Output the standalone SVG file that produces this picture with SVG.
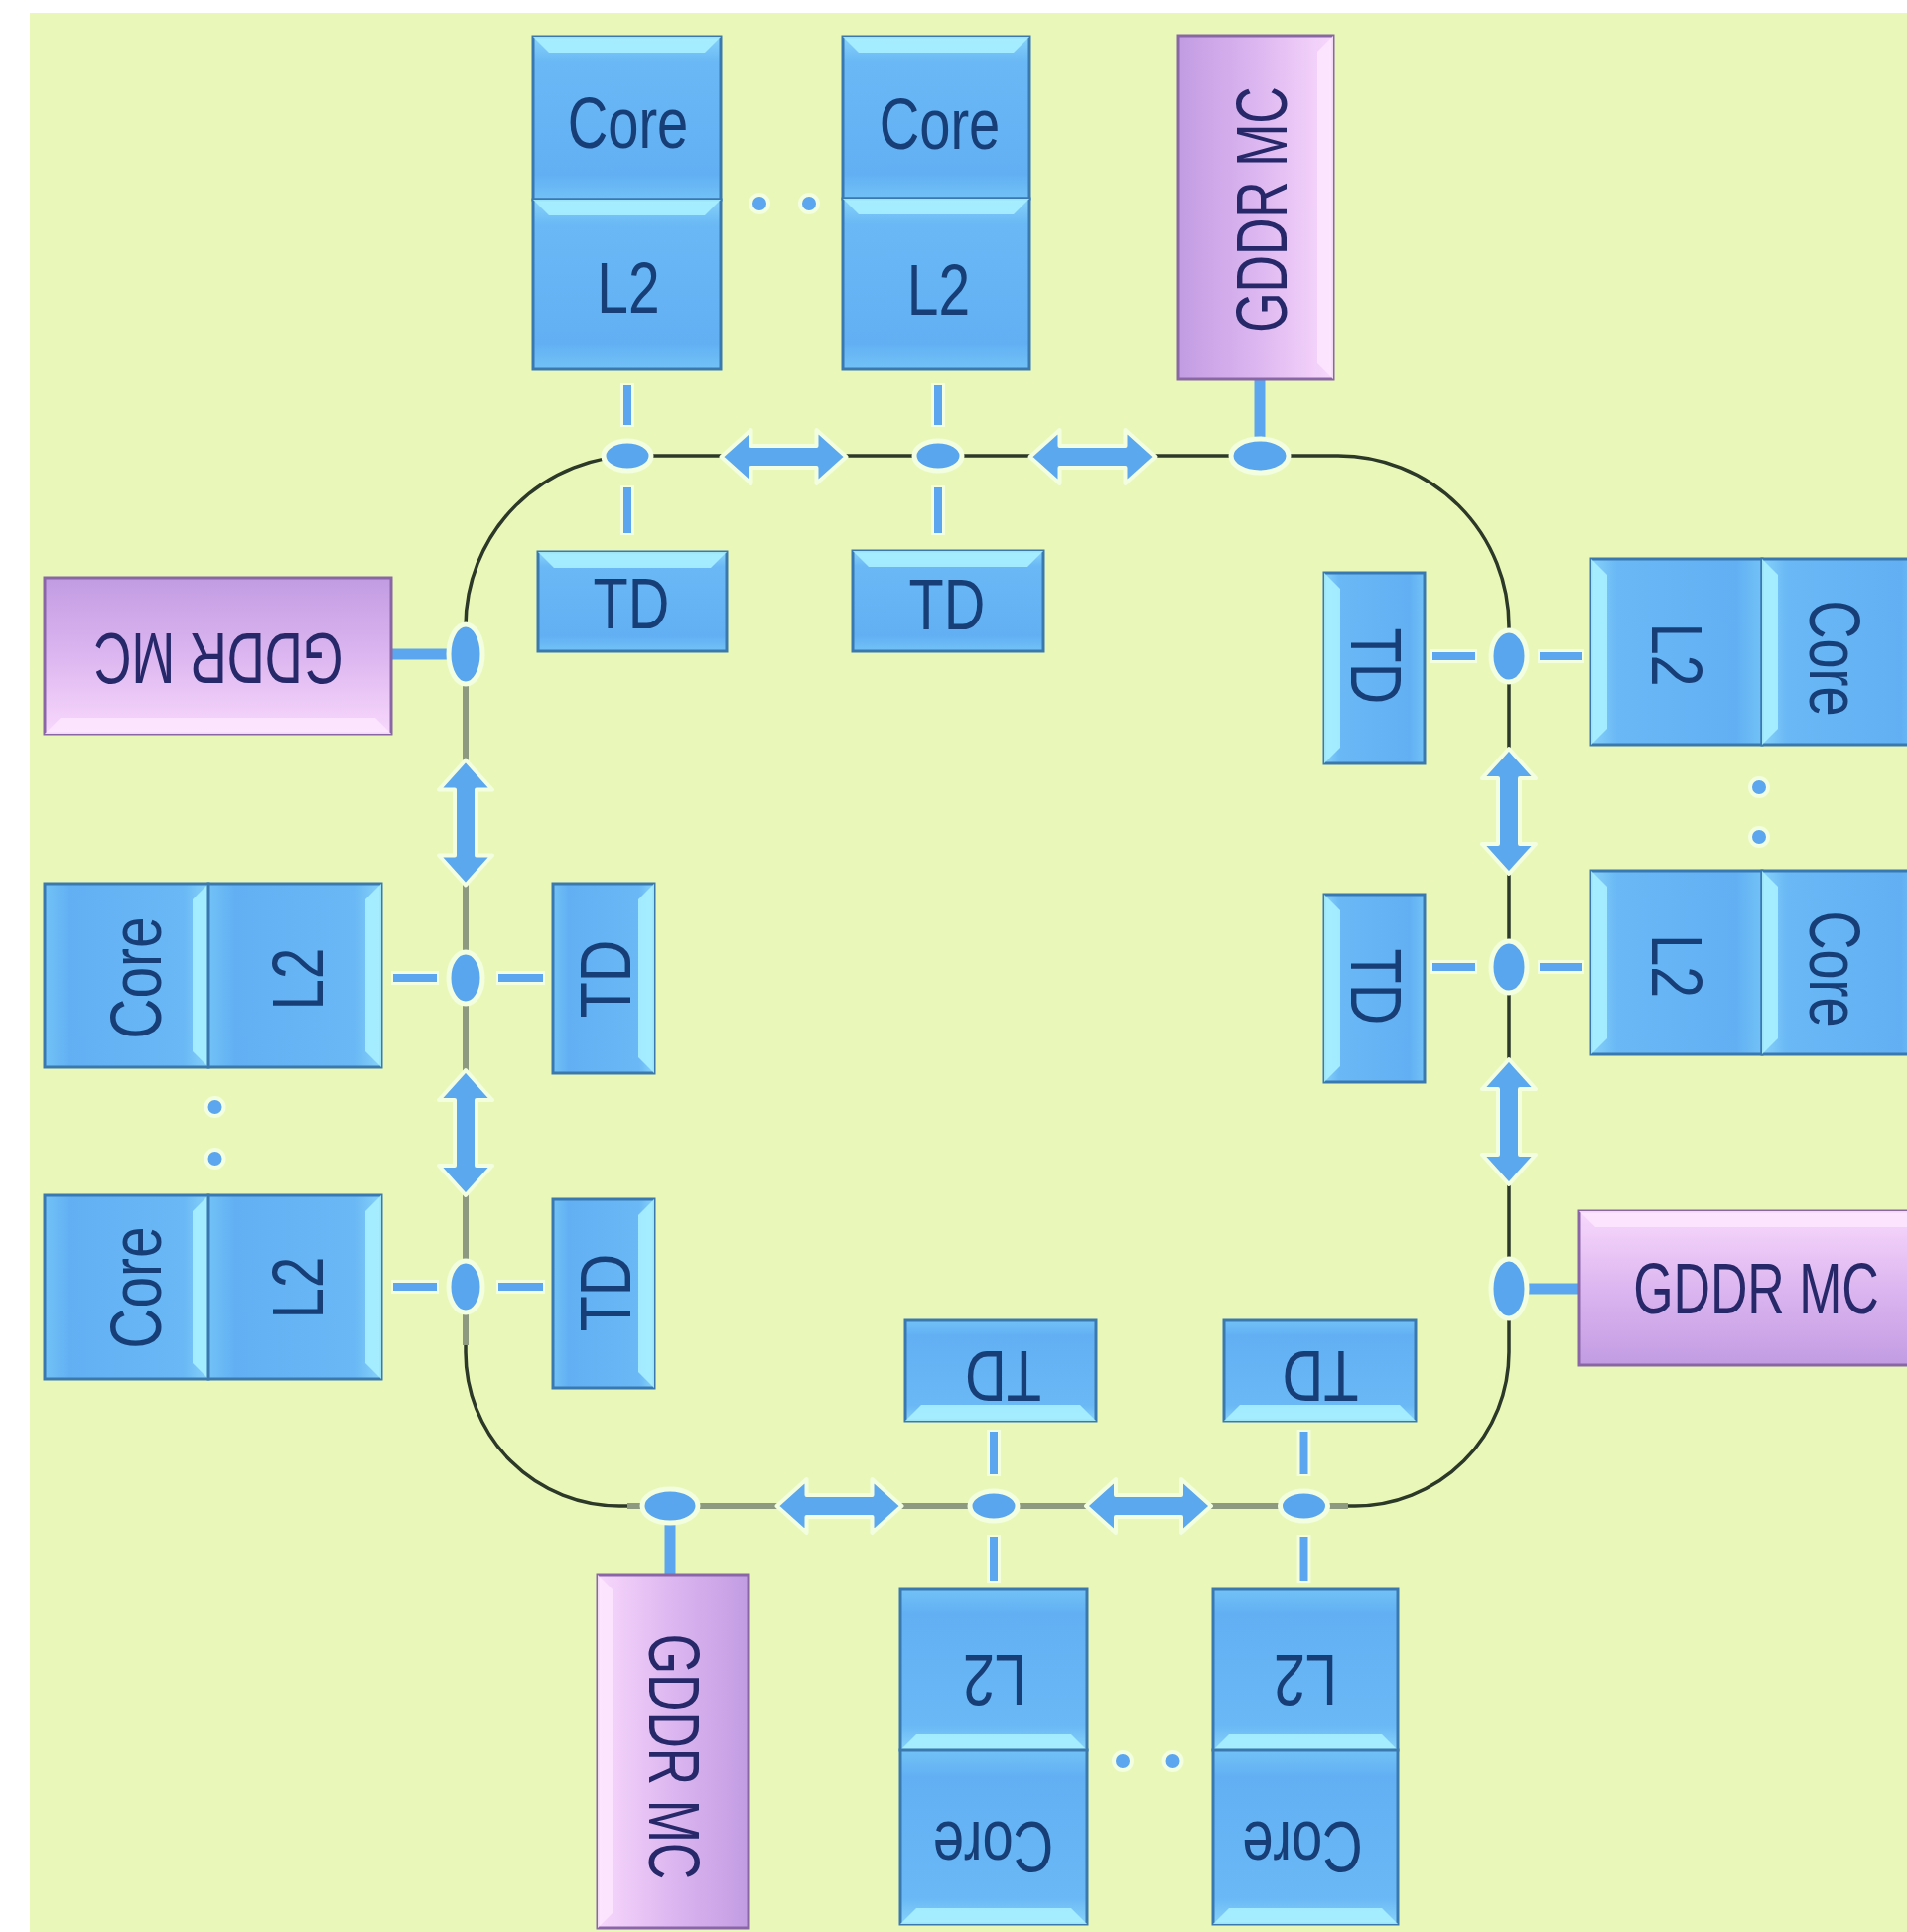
<svg xmlns="http://www.w3.org/2000/svg" width="1921" height="1946" viewBox="0 0 1921 1946">
<style>
.cell{stroke:#3a78b0;stroke-width:3}
.mc{stroke:#8a66a6;stroke-width:3}
.hl{fill:#a8f0ff;opacity:.9}
.hlp{fill:#fde6ff;opacity:.9}
.lbl{font-family:"Liberation Sans",Arial,sans-serif;font-size:72px;fill:#173e76;text-anchor:middle}
.lblm{font-family:"Liberation Sans",Arial,sans-serif;font-size:72px;fill:#26286a;text-anchor:middle}
.ring{fill:none;stroke:#2c3828;stroke-width:3.5}
.ringg{fill:none;stroke:#8d9a7f;stroke-width:6}
.halo{stroke:#f3fde0;stroke-width:14;stroke-linecap:butt}
.dash{stroke:#5ba6ee;stroke-width:8;stroke-linecap:butt}
.solid{stroke:#5ba6ee;stroke-width:11;stroke-linecap:butt}
.stop{fill:#5aa6ee;stroke:#f3fde0;stroke-width:5}
.dot{fill:#5ba6ee;stroke:#f3fde0;stroke-width:4}
.arr{fill:#5ca8ee;stroke:#f3fde0;stroke-width:4;stroke-linejoin:round}
</style>
<defs>
<linearGradient id="gTop" x1="0" y1="0" x2="0" y2="1"><stop offset="0" stop-color="#86d2fa"/><stop offset=".15" stop-color="#6ab8f5"/><stop offset=".85" stop-color="#62b0f3"/><stop offset="1" stop-color="#72c2f7"/></linearGradient>
<linearGradient id="gBottom" x1="0" y1="1" x2="0" y2="0"><stop offset="0" stop-color="#86d2fa"/><stop offset=".15" stop-color="#6ab8f5"/><stop offset=".85" stop-color="#62b0f3"/><stop offset="1" stop-color="#72c2f7"/></linearGradient>
<linearGradient id="gLeft" x1="0" y1="0" x2="1" y2="0"><stop offset="0" stop-color="#86d2fa"/><stop offset=".15" stop-color="#6ab8f5"/><stop offset=".85" stop-color="#62b0f3"/><stop offset="1" stop-color="#72c2f7"/></linearGradient>
<linearGradient id="gRight" x1="1" y1="0" x2="0" y2="0"><stop offset="0" stop-color="#86d2fa"/><stop offset=".15" stop-color="#6ab8f5"/><stop offset=".85" stop-color="#62b0f3"/><stop offset="1" stop-color="#72c2f7"/></linearGradient>
<linearGradient id="pRight" x1="0" y1="0" x2="1" y2="0"><stop offset="0" stop-color="#c29ce2"/><stop offset=".5" stop-color="#dcb6f0"/><stop offset="1" stop-color="#f8d8fc"/></linearGradient>
<linearGradient id="pLeft" x1="1" y1="0" x2="0" y2="0"><stop offset="0" stop-color="#c29ce2"/><stop offset=".5" stop-color="#dcb6f0"/><stop offset="1" stop-color="#f8d8fc"/></linearGradient>
<linearGradient id="pTop" x1="0" y1="1" x2="0" y2="0"><stop offset="0" stop-color="#c29ce2"/><stop offset=".5" stop-color="#dcb6f0"/><stop offset="1" stop-color="#f8d8fc"/></linearGradient>
<linearGradient id="pBottom" x1="0" y1="0" x2="0" y2="1"><stop offset="0" stop-color="#c29ce2"/><stop offset=".5" stop-color="#dcb6f0"/><stop offset="1" stop-color="#f8d8fc"/></linearGradient>
<path id="dblArrow" d="M-63,0 L-33,-27 L-33,-11 L33,-11 L33,-27 L63,0 L33,27 L33,11 L-33,11 L-33,27 Z"/>
</defs>
<rect x="0" y="0" width="1921" height="1946" fill="#ffffff"/>
<rect x="30" y="13" width="1891" height="1933" fill="#e9f8b8"/>

<g id="connectors">
  <path class="ring" d="M641,459 H1348 A172,172 0 0 1 1520,631 V1362 A155,155 0 0 1 1365,1517 H624 A155,155 0 0 1 469,1362 V631 A172,172 0 0 1 641,459 Z"/>
  <line class="ringg" x1="469" y1="640" x2="469" y2="1355"/>
  <line class="ringg" x1="632" y1="1517" x2="1358" y2="1517"/>
  <g id="spokes-halo">
    <line class="halo" x1="632" y1="386" x2="632" y2="430"/><line class="halo" x1="632" y1="489" x2="632" y2="539"/>
    <line class="halo" x1="945" y1="386" x2="945" y2="430"/><line class="halo" x1="945" y1="489" x2="945" y2="539"/>
    <line class="halo" x1="1441" y1="661" x2="1488" y2="661"/><line class="halo" x1="1549" y1="661" x2="1596" y2="661"/>
    <line class="halo" x1="1441" y1="974" x2="1488" y2="974"/><line class="halo" x1="1549" y1="974" x2="1596" y2="974"/>
    <line class="halo" x1="1001" y1="1440" x2="1001" y2="1487"/><line class="halo" x1="1001" y1="1546" x2="1001" y2="1594"/>
    <line class="halo" x1="1313.5" y1="1440" x2="1313.5" y2="1487"/><line class="halo" x1="1313.5" y1="1546" x2="1313.5" y2="1594"/>
    <line class="halo" x1="394" y1="985" x2="442" y2="985"/><line class="halo" x1="500" y1="985" x2="549" y2="985"/>
    <line class="halo" x1="394" y1="1296" x2="442" y2="1296"/><line class="halo" x1="500" y1="1296" x2="549" y2="1296"/>
  </g>
  <g id="spokes">
    <line class="dash" x1="632" y1="388" x2="632" y2="428"/><line class="dash" x1="632" y1="491" x2="632" y2="537"/>
    <line class="dash" x1="945" y1="388" x2="945" y2="428"/><line class="dash" x1="945" y1="491" x2="945" y2="537"/>
    <line class="solid" x1="1269" y1="382" x2="1269" y2="445"/>
    <line class="dash" x1="1443" y1="661" x2="1486" y2="661"/><line class="dash" x1="1551" y1="661" x2="1594" y2="661"/>
    <line class="dash" x1="1443" y1="974" x2="1486" y2="974"/><line class="dash" x1="1551" y1="974" x2="1594" y2="974"/>
    <line class="solid" x1="1535" y1="1298" x2="1591" y2="1298"/>
    <line class="dash" x1="1001" y1="1442" x2="1001" y2="1485"/><line class="dash" x1="1001" y1="1548" x2="1001" y2="1592"/>
    <line class="dash" x1="1313.5" y1="1442" x2="1313.5" y2="1485"/><line class="dash" x1="1313.5" y1="1548" x2="1313.5" y2="1592"/>
    <line class="solid" x1="675" y1="1530" x2="675" y2="1586"/>
    <line class="dash" x1="396" y1="985" x2="440" y2="985"/><line class="dash" x1="502" y1="985" x2="547" y2="985"/>
    <line class="dash" x1="396" y1="1296" x2="440" y2="1296"/><line class="dash" x1="502" y1="1296" x2="547" y2="1296"/>
    <line class="solid" x1="394" y1="659" x2="455" y2="659"/>
  </g>
  <g id="ring-stops">
    <ellipse class="stop" cx="632" cy="459" rx="24" ry="15"/>
    <ellipse class="stop" cx="945" cy="459" rx="24" ry="15"/>
    <ellipse class="stop" cx="1269" cy="459" rx="29" ry="17"/>
    <ellipse class="stop" cx="1520" cy="661" rx="18" ry="26"/>
    <ellipse class="stop" cx="1520" cy="974" rx="18" ry="26"/>
    <ellipse class="stop" cx="1520" cy="1298" rx="18" ry="30"/>
    <ellipse class="stop" cx="1001" cy="1517" rx="24" ry="15"/>
    <ellipse class="stop" cx="1313.5" cy="1517" rx="24" ry="15"/>
    <ellipse class="stop" cx="675" cy="1517" rx="28" ry="17"/>
    <ellipse class="stop" cx="469" cy="985" rx="17" ry="26"/>
    <ellipse class="stop" cx="469" cy="1296" rx="17" ry="26"/>
    <ellipse class="stop" cx="469" cy="659" rx="17" ry="30"/>
  </g>
  <g id="ring-arrows">
    <use href="#dblArrow" class="arr" transform="translate(789.5,460)"/>
    <use href="#dblArrow" class="arr" transform="translate(1100.5,460)"/>
    <use href="#dblArrow" class="arr" transform="translate(1520,817) rotate(90)"/>
    <use href="#dblArrow" class="arr" transform="translate(1520,1130) rotate(90)"/>
    <use href="#dblArrow" class="arr" transform="translate(845.5,1517)"/>
    <use href="#dblArrow" class="arr" transform="translate(1157,1517)"/>
    <use href="#dblArrow" class="arr" transform="translate(469,828.5) rotate(90)"/>
    <use href="#dblArrow" class="arr" transform="translate(469,1141) rotate(90)"/>
  </g>
  <g id="ellipsis-dots">
    <circle class="dot" cx="765" cy="205" r="9"/><circle class="dot" cx="815" cy="205" r="9"/>
    <circle class="dot" cx="1772" cy="793" r="9"/><circle class="dot" cx="1772" cy="843" r="9"/>
    <circle class="dot" cx="1131" cy="1774" r="9"/><circle class="dot" cx="1181.5" cy="1774" r="9"/>
    <circle class="dot" cx="216.5" cy="1115" r="9"/><circle class="dot" cx="216.5" cy="1167" r="9"/>
  </g>
</g>

<!-- TOP -->
<g id="core-top-1">
  <rect class="cell" x="537" y="37" width="189" height="164" fill="url(#gTop)"/>
  <polygon class="hl" points="537,37 726,37 710,53 553,53"/>
  <rect class="cell" x="537" y="201" width="189" height="171" fill="url(#gTop)"/>
  <polygon class="hl" points="537,201 726,201 710,217 553,217"/>
  <text class="lbl" transform="translate(632.5,124) scale(0.78,1)" y="25">Core</text>
  <text class="lbl" transform="translate(633,290) scale(0.79,1)" y="25">L2</text>
</g>
<g id="core-top-2">
  <rect class="cell" x="849" y="37" width="188" height="163" fill="url(#gTop)"/>
  <polygon class="hl" points="849,37 1037,37 1021,53 865,53"/>
  <rect class="cell" x="849" y="200" width="188" height="172" fill="url(#gTop)"/>
  <polygon class="hl" points="849,200 1037,200 1021,216 865,216"/>
  <text class="lbl" transform="translate(946.5,125) scale(0.78,1)" y="25">Core</text>
  <text class="lbl" transform="translate(945.5,291.5) scale(0.79,1)" y="25">L2</text>
</g>
<g id="td-top-1">
  <rect class="cell" x="542" y="556" width="190" height="100" fill="url(#gTop)"/>
  <polygon class="hl" points="542,556 732,556 716,572 558,572"/>
  <text class="lbl" transform="translate(636,608) scale(0.8,1)" y="25">TD</text>
</g>
<g id="td-top-2">
  <rect class="cell" x="859" y="555" width="192" height="101" fill="url(#gTop)"/>
  <polygon class="hl" points="859,555 1051,555 1035,571 875,571"/>
  <text class="lbl" transform="translate(954,608.5) scale(0.8,1)" y="25">TD</text>
</g>
<g id="gddr-top">
  <rect class="mc" x="1187" y="36" width="156" height="346" fill="url(#pRight)"/>
  <polygon class="hlp" points="1343,36 1343,382 1327,366 1327,52"/>
  <text class="lblm" transform="translate(1271,211) rotate(-90) scale(0.72,1)" y="25">GDDR MC</text>
</g>

<!-- RIGHT -->
<g id="core-right-1">
  <rect class="cell" x="1603" y="563" width="172" height="187" fill="url(#gLeft)"/>
  <polygon class="hl" points="1603,563 1619,579 1619,734 1603,750"/>
  <rect class="cell" x="1775" y="563" width="165" height="187" fill="url(#gLeft)"/>
  <polygon class="hl" points="1775,563 1791,579 1791,734 1775,750"/>
  <text class="lbl" transform="translate(1689,659.5) rotate(90) scale(0.8,1)" y="25">L2</text>
  <text class="lbl" transform="translate(1848,663) rotate(90) scale(0.75,1)" y="25">Core</text>
</g>
<g id="core-right-2">
  <rect class="cell" x="1603" y="877" width="172" height="185" fill="url(#gLeft)"/>
  <polygon class="hl" points="1603,877 1619,893 1619,1046 1603,1062"/>
  <rect class="cell" x="1775" y="877" width="165" height="185" fill="url(#gLeft)"/>
  <polygon class="hl" points="1775,877 1791,893 1791,1046 1775,1062"/>
  <text class="lbl" transform="translate(1689,973) rotate(90) scale(0.8,1)" y="25">L2</text>
  <text class="lbl" transform="translate(1848,976) rotate(90) scale(0.75,1)" y="25">Core</text>
</g>
<g id="td-right-1">
  <rect class="cell" x="1334" y="577" width="101" height="192" fill="url(#gLeft)"/>
  <polygon class="hl" points="1334,577 1350,593 1350,753 1334,769"/>
  <text class="lbl" transform="translate(1386,671) rotate(90) scale(0.8,1)" y="25">TD</text>
</g>
<g id="td-right-2">
  <rect class="cell" x="1334" y="901" width="101" height="189" fill="url(#gLeft)"/>
  <polygon class="hl" points="1334,901 1350,917 1350,1074 1334,1090"/>
  <text class="lbl" transform="translate(1386,994) rotate(90) scale(0.8,1)" y="25">TD</text>
</g>
<g id="gddr-right">
  <rect class="mc" x="1591" y="1220" width="349" height="155" fill="url(#pTop)"/>
  <polygon class="hlp" points="1591,1220 1940,1220 1924,1236 1607,1236"/>
  <text class="lblm" transform="translate(1769,1298) scale(0.72,1)" y="25">GDDR MC</text>
</g>

<!-- BOTTOM -->
<g id="core-bottom-1">
  <rect class="cell" x="907" y="1601" width="188" height="162" fill="url(#gBottom)"/>
  <polygon class="hl" points="907,1763 1095,1763 1079,1747 923,1747"/>
  <rect class="cell" x="907" y="1763" width="188" height="175" fill="url(#gBottom)"/>
  <polygon class="hl" points="907,1938 1095,1938 1079,1922 923,1922"/>
  <text class="lbl" transform="translate(1002,1692.5) rotate(180) scale(0.8,1)" y="25">L2</text>
  <text class="lbl" transform="translate(1000.5,1860.5) rotate(180) scale(0.78,1)" y="25">Core</text>
</g>
<g id="core-bottom-2">
  <rect class="cell" x="1222" y="1601" width="186" height="162" fill="url(#gBottom)"/>
  <polygon class="hl" points="1222,1763 1408,1763 1392,1747 1238,1747"/>
  <rect class="cell" x="1222" y="1763" width="186" height="175" fill="url(#gBottom)"/>
  <polygon class="hl" points="1222,1938 1408,1938 1392,1922 1238,1922"/>
  <text class="lbl" transform="translate(1315,1692.5) rotate(180) scale(0.8,1)" y="25">L2</text>
  <text class="lbl" transform="translate(1312,1860.5) rotate(180) scale(0.78,1)" y="25">Core</text>
</g>
<g id="td-bottom-1">
  <rect class="cell" x="912" y="1330" width="192" height="101" fill="url(#gBottom)"/>
  <polygon class="hl" points="912,1431 1104,1431 1088,1415 928,1415"/>
  <text class="lbl" transform="translate(1010.5,1386) rotate(180) scale(0.8,1)" y="25">TD</text>
</g>
<g id="td-bottom-2">
  <rect class="cell" x="1233" y="1330" width="193" height="101" fill="url(#gBottom)"/>
  <polygon class="hl" points="1233,1431 1426,1431 1410,1415 1249,1415"/>
  <text class="lbl" transform="translate(1330,1386) rotate(180) scale(0.8,1)" y="25">TD</text>
</g>
<g id="gddr-bottom">
  <rect class="mc" x="602" y="1586" width="152" height="356" fill="url(#pLeft)"/>
  <polygon class="hlp" points="602,1586 618,1602 618,1926 602,1942"/>
  <text class="lblm" transform="translate(679,1769.5) rotate(90) scale(0.72,1)" y="25">GDDR MC</text>
</g>

<!-- LEFT -->
<g id="core-left-1">
  <rect class="cell" x="45" y="890" width="165" height="185" fill="url(#gRight)"/>
  <polygon class="hl" points="210,890 210,1075 194,1059 194,906"/>
  <rect class="cell" x="210" y="890" width="174" height="185" fill="url(#gRight)"/>
  <polygon class="hl" points="384,890 384,1075 368,1059 368,906"/>
  <text class="lbl" transform="translate(137,985) rotate(-90) scale(0.79,1)" y="25">Core</text>
  <text class="lbl" transform="translate(300,986) rotate(-90) scale(0.78,1)" y="25">L2</text>
</g>
<g id="core-left-2">
  <rect class="cell" x="45" y="1204" width="165" height="185" fill="url(#gRight)"/>
  <polygon class="hl" points="210,1204 210,1389 194,1373 194,1220"/>
  <rect class="cell" x="210" y="1204" width="174" height="185" fill="url(#gRight)"/>
  <polygon class="hl" points="384,1204 384,1389 368,1373 368,1220"/>
  <text class="lbl" transform="translate(137,1297) rotate(-90) scale(0.79,1)" y="25">Core</text>
  <text class="lbl" transform="translate(300,1297) rotate(-90) scale(0.78,1)" y="25">L2</text>
</g>
<g id="td-left-1">
  <rect class="cell" x="557" y="890" width="102" height="191" fill="url(#gRight)"/>
  <polygon class="hl" points="659,890 659,1081 643,1065 643,906"/>
  <text class="lbl" transform="translate(609.5,986) rotate(-90) scale(0.82,1)" y="25">TD</text>
</g>
<g id="td-left-2">
  <rect class="cell" x="557" y="1208" width="102" height="190" fill="url(#gRight)"/>
  <polygon class="hl" points="659,1208 659,1398 643,1382 643,1224"/>
  <text class="lbl" transform="translate(609.5,1302) rotate(-90) scale(0.82,1)" y="25">TD</text>
</g>
<g id="gddr-left">
  <rect class="mc" x="45" y="582" width="349" height="157" fill="url(#pBottom)"/>
  <polygon class="hlp" points="45,739 394,739 378,723 61,723"/>
  <text class="lblm" transform="translate(220,663.5) rotate(180) scale(0.73,1)" y="25">GDDR MC</text>
</g>
</svg>
